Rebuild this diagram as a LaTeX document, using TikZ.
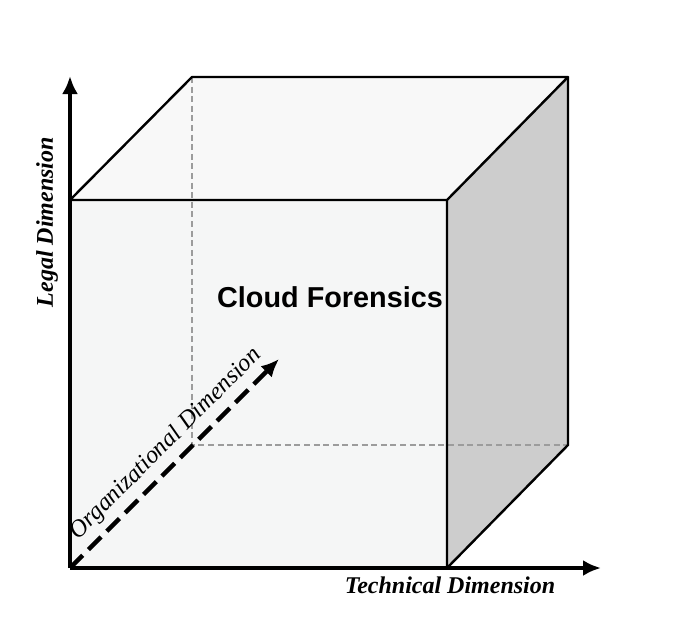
\documentclass[tikz,border=0pt]{standalone}
\usepackage{fontspec}
\setmainfont{Liberation Serif}
\setsansfont{Liberation Sans}
\usepackage{tikz}
\usetikzlibrary{arrows,arrows.meta,positioning}

\definecolor{frontgray}{HTML}{F5F6F6}
\definecolor{topgray}{HTML}{F8F8F8}
\definecolor{sidegray}{HTML}{CDCDCD}
\definecolor{hiddengray}{HTML}{9C9C9C}

\tikzset{
    edge/.style={line width=1.2pt, line join=round},
    hidden/.style={hiddengray, line width=1pt, dash pattern=on 3pt off 1.8pt},
    axis/.style={line width=2.2pt, -{Latex[length=9pt,width=8pt]}},
    dimlabel/.style={font=\fontsize{12}{14}\selectfont\bfseries\itshape, inner sep=1pt}
}

\begin{document}
\begin{tikzpicture}[x=0.5pt, y=-0.5pt]
    \useasboundingbox (0,0) rectangle (674,616);

    % cube corners
    \coordinate (o) at (70,568);
    \coordinate (fr) at (447,568);
    \coordinate (ftr) at (447,200);
    \coordinate (ftl) at (70,200);
    \coordinate (bbl) at (192,445);
    \coordinate (bbr) at (568,445);
    \coordinate (btr) at (568,77);
    \coordinate (btl) at (192,77);

    % faces
    \fill[frontgray] (o) -- (fr) -- (ftr) -- (ftl) -- cycle;
    \fill[topgray] (ftl) -- (ftr) -- (btr) -- (btl) -- cycle;
    \fill[sidegray] (fr) -- (bbr) -- (btr) -- (ftr) -- cycle;

    % hidden edges
    \draw[hidden] (btl) -- (bbl) -- (bbr);

    % visible edges
    \draw[edge] (ftl) -- (btl) -- (btr) -- (ftr) -- cycle;
    \draw[edge] (btr) -- (bbr) -- (fr) -- (ftr);

    % axes
    \coordinate (ytip) at (70,76);
    \coordinate (xtip) at (601,568);
    \coordinate (ztip) at (279,359);
    \draw[axis] (o) -- (ytip);
    \draw[axis] (o) -- (xtip);
    \draw[axis, dash pattern=on 9pt off 4pt] (o) -- (ztip);

    \node[dimlabel, rotate=90] (legal) at (47,222) {Legal Dimension};
    \node[dimlabel] (technical) at (450,585) {Technical Dimension};
    \node[dimlabel, font=\fontsize{12.2}{14}\selectfont\itshape, rotate=45] (organizational) at (166,444) {Organizational Dimension};

    \node[font=\fontsize{14.4}{16}\selectfont\sffamily\bfseries] (cloud) at (330,297) {Cloud Forensics};
\end{tikzpicture}
\end{document}
